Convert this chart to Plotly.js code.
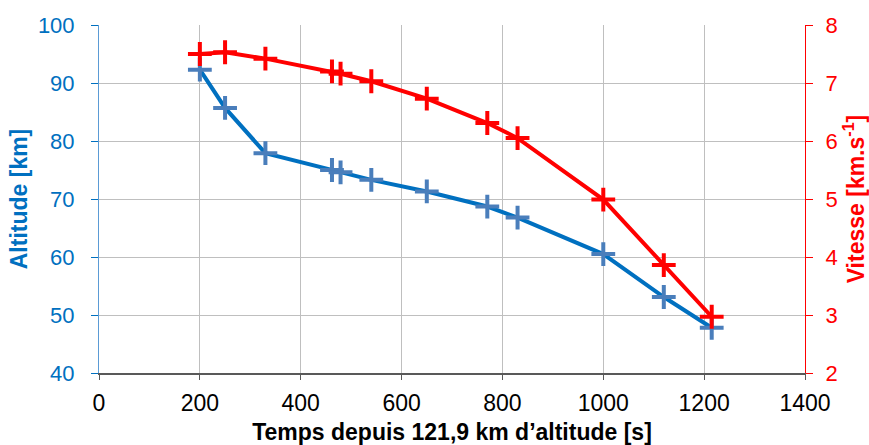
<!DOCTYPE html>
<html>
<head>
<meta charset="utf-8">
<script src="https://cdn.plot.ly/plotly-3.0.1.min.js"></script>
<style>html,body{margin:0;padding:0;background:#fff;}#chart{width:869px;height:445px;}</style>
</head>
<body>
<div id="chart"></div>
<script>
const temps = [200, 250, 330, 462, 479, 540, 650, 770, 830, 1000, 1120, 1215];
const altitude = [92.3, 85.7, 77.9, 75.0, 74.6, 73.3, 71.3, 68.7, 66.8, 60.5, 53.1, 47.8];
const vitesse = [7.50, 7.53, 7.42, 7.20, 7.16, 7.03, 6.73, 6.31, 6.05, 4.99, 3.86, 2.97];

const xTicks = [0, 200, 400, 600, 800, 1000, 1200, 1400];
const altTicks = [40, 50, 60, 70, 80, 90, 100];
const vitTicks = [2, 3, 4, 5, 6, 7, 8];

const FONT = '"Liberation Sans", Arial, sans-serif';
const BLUE = '#0070C0';
const RED = '#FF0000';

const traces = [
  {
    x: temps, y: altitude, type: 'scatter', mode: 'lines+markers', name: 'Altitude',
    line: {color: BLUE, width: 4},
    marker: {symbol: 'cross-thin', size: 17, line: {color: '#4A7EBB', width: 4}},
    yaxis: 'y'
  },
  {
    x: temps, y: vitesse, type: 'scatter', mode: 'lines+markers', name: 'Vitesse',
    line: {color: RED, width: 4},
    marker: {symbol: 'cross-thin', size: 17, line: {color: RED, width: 4}},
    yaxis: 'y2'
  }
];

const layout = {
  width: 869, height: 445,
  margin: {l: 99, r: 64, t: 25, b: 72},
  paper_bgcolor: '#fff', plot_bgcolor: '#fff',
  showlegend: false,
  font: {family: FONT},
  xaxis: {
    range: [0, 1400], tickvals: xTicks, ticktext: xTicks.map(String),
    showgrid: true, gridcolor: '#BFBFBF', gridwidth: 1,
    zeroline: false, automargin: false,
    showline: true, linecolor: '#595959', linewidth: 2,
    ticks: 'outside', ticklen: 5, tickcolor: '#595959', tickwidth: 1,
    ticklabelstandoff: 3,
    tickfont: {family: FONT, size: 23, color: '#000'},
    title: {text: 'Temps depuis 121,9 km d\u2019altitude [s]', font: {family: FONT, size: 23, color: '#000', weight: 'bold'}, standoff: 10}
  },
  yaxis: {
    range: [40, 100], tickvals: altTicks, ticktext: altTicks.map(String),
    showgrid: true, gridcolor: '#BFBFBF', gridwidth: 1,
    zeroline: false, automargin: false,
    showline: true, linecolor: '#5B9BD5', linewidth: 1,
    ticks: 'outside', ticklen: 7, tickcolor: BLUE, tickwidth: 1,
    ticklabelstandoff: 12,
    tickfont: {family: FONT, size: 22, color: BLUE},
    title: {text: 'Altitude [km]', font: {family: FONT, size: 23, color: BLUE, weight: 'bold'}, standoff: 3}
  },
  yaxis2: {
    range: [2, 8], tickvals: vitTicks, ticktext: vitTicks.map(String),
    overlaying: 'y', side: 'right',
    showgrid: false, zeroline: false, automargin: false,
    showline: true, linecolor: RED, linewidth: 1,
    ticks: 'outside', ticklen: 7, tickcolor: RED, tickwidth: 1,
    ticklabelstandoff: 8,
    tickfont: {family: FONT, size: 22, color: RED},
    title: {text: 'Vitesse [km.s<sup>-1</sup>]', font: {family: FONT, size: 23, color: RED, weight: 'bold'}, standoff: 11}
  }
};

Plotly.newPlot('chart', traces, layout, {displayModeBar: false, staticPlot: true});
</script>
</body>
</html>
